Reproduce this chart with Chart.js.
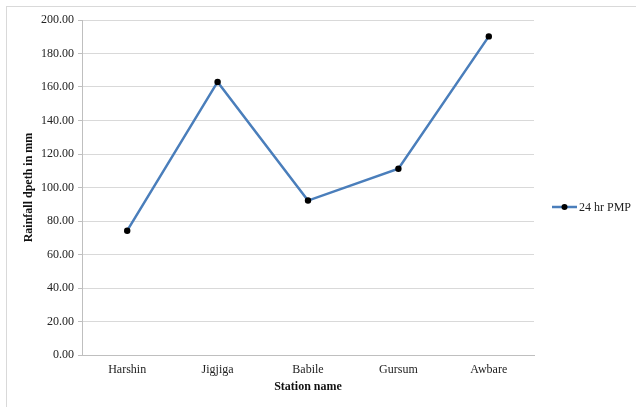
<!DOCTYPE html>
<html>
<head>
<meta charset="utf-8">
<script src="https://cdn.jsdelivr.net/npm/chart.js@4/dist/chart.umd.min.js"></script>
<style>
  html, body { margin: 0; padding: 0; background: #fff; overflow: hidden; }
  #wrap { position: relative; width: 636px; height: 407px; overflow: hidden; }
  #frame { position: absolute; left: 6px; top: 6px; width: 660px; height: 430px; border: 1px solid #d9d9d9; box-sizing: border-box; }
  canvas { position: absolute; left: 0; top: 0; }
</style>
</head>
<body>
<div id="wrap">
  <div id="frame"></div>
  <canvas id="c" width="636" height="407"></canvas>
</div>
<script>
// Station names along the x axis
const stations = ['Harshin', 'Jigjiga', 'Babile', 'Gursum', 'Awbare'];
// 24 hr probable maximum precipitation per station (mm)
const pmp24 = [74.2, 163.0, 92.2, 111.2, 190.2];
const seriesName = '24 hr PMP';
const yTickMin = 0;
const yTickMax = 200;
const yTickStep = 20;

const FONT = "'Liberation Serif', 'Times New Roman', serif";
const LINE_COLOR = '#4a7ebb';

// Legend on the right: short line with a dot, then the series name
const sideLegend = {
  id: 'sideLegend',
  afterDraw(chart) {
    const ctx = chart.ctx;
    const ds = chart.data.datasets[0];
    const y = 207;
    ctx.save();
    ctx.strokeStyle = LINE_COLOR;
    ctx.lineWidth = 2.5;
    ctx.beginPath();
    ctx.moveTo(552, y);
    ctx.lineTo(577, y);
    ctx.stroke();
    ctx.fillStyle = '#000';
    ctx.beginPath();
    ctx.arc(564.5, y, 3, 0, Math.PI * 2);
    ctx.fill();
    ctx.font = '12px ' + FONT;
    ctx.fillStyle = '#222';
    ctx.textBaseline = 'middle';
    ctx.textAlign = 'left';
    ctx.fillText(ds.label, 579, y + 0.5);
    ctx.restore();
  }
};

new Chart(document.getElementById('c'), {
  type: 'line',
  data: {
    labels: stations,
    datasets: [{
      label: seriesName,
      data: pmp24,
      borderColor: LINE_COLOR,
      borderWidth: 2.5,
      backgroundColor: '#000',
      pointBackgroundColor: '#000',
      pointBorderColor: '#000',
      pointBorderWidth: 0,
      pointRadius: 3.2,
      tension: 0,
      fill: false
    }]
  },
  options: {
    responsive: false,
    animation: false,
    layout: { padding: { left: 0, right: 102, top: 20, bottom: 0 } },
    plugins: {
      legend: { display: false },
      tooltip: { enabled: false }
    },
    scales: {
      x: {
        offset: true,
        grid: { display: false, drawTicks: false },
        border: { display: true, color: '#bfbfbf', width: 1 },
        ticks: { color: '#222', padding: 8, font: { family: FONT, size: 12 }, maxRotation: 0 },
        title: {
          display: true,
          text: 'Station name',
          color: '#111',
          font: { family: FONT, size: 12, weight: 'bold' },
          padding: { top: 0, bottom: 13 }
        },
        afterFit(scale) { scale.height = 52; }
      },
      y: {
        min: yTickMin,
        max: yTickMax,
        grid: { color: '#d9d9d9', lineWidth: 1, drawTicks: true, tickLength: 4, tickColor: '#bfbfbf' },
        border: { display: true, color: '#bfbfbf', width: 1 },
        ticks: {
          stepSize: yTickStep,
          color: '#222',
          padding: 4,
          font: { family: FONT, size: 12 },
          callback: v => Number(v).toFixed(2)
        },
        title: {
          display: true,
          text: 'Rainfall dpeth in mm',
          color: '#111',
          font: { family: FONT, size: 12, weight: 'bold' },
          padding: { top: 22, bottom: 0 }
        },
        afterFit(scale) { scale.width = 82; }
      }
    }
  },
  plugins: [sideLegend]
});
</script>
</body>
</html>
